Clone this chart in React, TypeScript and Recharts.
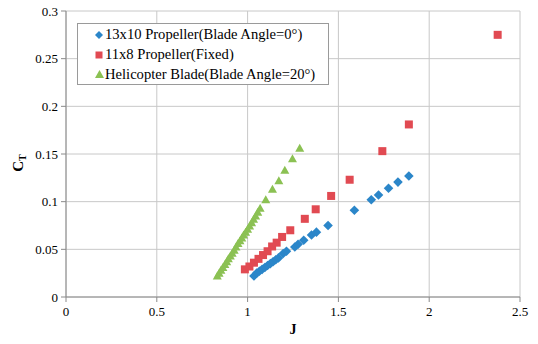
import React from "react";
import {
  ScatterChart,
  Scatter,
  XAxis,
  YAxis,
  CartesianGrid,
  Label,
} from "recharts";

// Thrust coefficient C_T against advance ratio J for three rotors
const propeller13x10J = [
  1.035, 1.05, 1.065, 1.08, 1.095, 1.11, 1.125, 1.14, 1.155, 1.17, 1.196,
  1.214, 1.26, 1.278, 1.309, 1.352, 1.379, 1.443, 1.588, 1.681, 1.721, 1.776,
  1.828, 1.888,
];
const propeller13x10CT = [
  0.022, 0.025, 0.027, 0.029, 0.031, 0.033, 0.035, 0.037, 0.039, 0.041,
  0.0456, 0.048, 0.0525, 0.0554, 0.0596, 0.065, 0.068, 0.075, 0.091, 0.102,
  0.107, 0.114, 0.1205, 0.127,
];

const propeller11x8J = [
  0.985, 1.01, 1.035, 1.06, 1.085, 1.11, 1.135, 1.16, 1.19, 1.235, 1.315,
  1.375, 1.46, 1.562, 1.742, 1.888, 2.377,
];
const propeller11x8CT = [
  0.029, 0.032, 0.036, 0.04, 0.044, 0.048, 0.053, 0.057, 0.063, 0.07, 0.082,
  0.092, 0.106, 0.123, 0.153, 0.181, 0.275,
];

const heliBladeJ = [
  0.833, 0.843, 0.853, 0.864, 0.875, 0.885, 0.894, 0.905, 0.915, 0.926,
  0.936, 0.947, 0.958, 0.968, 0.978, 0.989, 1.0, 1.011, 1.022, 1.033, 1.044,
  1.056, 1.069, 1.1, 1.137, 1.172, 1.205, 1.247, 1.287,
];
const heliBladeCT = [
  0.022, 0.025, 0.028, 0.031, 0.034, 0.037, 0.04, 0.043, 0.046, 0.049,
  0.0525, 0.056, 0.059, 0.062, 0.065, 0.068, 0.071, 0.0745, 0.078, 0.0815,
  0.085, 0.089, 0.093, 0.102, 0.113, 0.122, 0.133, 0.145, 0.156,
];

const xTicks = [0, 0.5, 1, 1.5, 2, 2.5];
const yTicks = [0, 0.05, 0.1, 0.15, 0.2, 0.25, 0.3];

const seriesNames = [
  "13x10 Propeller(Blade Angle=0°)",
  "11x8 Propeller(Fixed)",
  "Helicopter Blade(Blade Angle=20°)",
];

const BLUE = "#2b86c9";
const RED = "#e14a52";
const GREEN = "#8bc153";
const SERIF =
  "'Liberation Serif', 'Times New Roman', Times, 'DejaVu Serif', serif";

const toPoints = (xs: number[], ys: number[]) =>
  xs.map((x, i) => ({ J: x, CT: ys[i] }));

const blueData = toPoints(propeller13x10J, propeller13x10CT);
const redData = toPoints(propeller11x8J, propeller11x8CT);
const greenData = toPoints(heliBladeJ, heliBladeCT);

const Diamond = (p: any) => (
  <polygon
    points={`${p.cx},${p.cy - 4.8} ${p.cx + 4.8},${p.cy} ${p.cx},${p.cy + 4.8} ${p.cx - 4.8},${p.cy}`}
    fill={BLUE}
  />
);
const Square = (p: any) => (
  <rect x={p.cx - 4} y={p.cy - 4} width={8} height={8} fill={RED} />
);
const Triangle = (p: any) => (
  <polygon
    points={`${p.cx},${p.cy - 4.5} ${p.cx + 4.5},${p.cy + 3.5} ${p.cx - 4.5},${p.cy + 3.5}`}
    fill={GREEN}
  />
);

const markerIcon = (i: number) => {
  if (i === 0)
    return (
      <svg width={8} height={8}>
        <polygon points="4,0 8,4 4,8 0,4" fill={BLUE} />
      </svg>
    );
  if (i === 1)
    return (
      <svg width={8} height={8}>
        <rect x={0.5} y={0.5} width={7} height={7} fill={RED} />
      </svg>
    );
  return (
    <svg width={9} height={8}>
      <polygon points="4.5,0 9,8 0,8" fill={GREEN} />
    </svg>
  );
};

const LegendBox = () => (
  <div
    style={{
      position: "absolute",
      left: 77,
      top: 23,
      border: "1px solid #9a9a9a",
      background: "#fff",
      width: 252,
      height: 62,
      boxSizing: "border-box",
      padding: "1px 0 0 17px",
      fontFamily: SERIF,
      fontSize: 14.6,
      color: "#000",
    }}
  >
    {seriesNames.map((name, i) => (
      <div
        key={name}
        style={{ display: "flex", alignItems: "center", height: 19.7 }}
      >
        <span style={{ width: 10, display: "flex", alignItems: "center" }}>
          {markerIcon(i)}
        </span>
        <span style={{ whiteSpace: "nowrap" }}>{name}</span>
      </div>
    ))}
  </div>
);

const YTitle = (props: any) => {
  const vb = props.viewBox || {};
  const cx = 18;
  const cy = vb.y + vb.height / 2 + 9;
  return (
    <text
      x={cx}
      y={cy}
      transform={`rotate(-90 ${cx} ${cy})`}
      textAnchor="middle"
      style={{ fontFamily: SERIF, fontWeight: "bold", fontSize: 15 }}
      fill="#000"
      dominantBaseline="central"
    >
      C
      <tspan style={{ fontSize: 10 }} dy={4}>
        T
      </tspan>
    </text>
  );
};

const tickStyle = {
  fontSize: 13,
  fill: "#000",
  style: { fontFamily: SERIF },
};

export default function App() {
  return (
    <div
      style={{
        position: "absolute",
        left: 0,
        top: 0,
        width: 538,
        height: 344,
        fontFamily: SERIF,
      }}
    >
      <ScatterChart
        width={538}
        height={344}
        margin={{ top: 11, right: 18, bottom: 0, left: 0 }}
        style={{ fontFamily: SERIF }}
      >
        <CartesianGrid stroke="#c8c8c8" strokeWidth={1} />
        <XAxis
          type="number"
          dataKey="J"
          domain={[0, 2.5]}
          ticks={xTicks}
          interval={0}
          height={47}
          tick={tickStyle}
          tickSize={5}
          tickMargin={5}
          axisLine={{ stroke: "#8a8a8a" }}
          tickLine={{ stroke: "#8a8a8a" }}
        >
          <Label
            value="J"
            position="insideBottom"
            offset={10}
            style={{
              fontFamily: SERIF,
              fontWeight: "bold",
              fontSize: 14,
              fill: "#000",
            }}
          />
        </XAxis>
        <YAxis
          type="number"
          dataKey="CT"
          domain={[0, 0.3]}
          ticks={yTicks}
          interval={0}
          width={66}
          tick={tickStyle}
          tickSize={5}
          tickMargin={3}
          axisLine={{ stroke: "#8a8a8a" }}
          tickLine={{ stroke: "#8a8a8a" }}
        >
          <Label content={<YTitle />} />
        </YAxis>
        <Scatter
          name={seriesNames[0]}
          data={blueData}
          fill={BLUE}
          shape={Diamond}
          isAnimationActive={false}
        />
        <Scatter
          name={seriesNames[1]}
          data={redData}
          fill={RED}
          shape={Square}
          isAnimationActive={false}
        />
        <Scatter
          name={seriesNames[2]}
          data={greenData}
          fill={GREEN}
          shape={Triangle}
          isAnimationActive={false}
        />
      </ScatterChart>
      <LegendBox />
    </div>
  );
}
